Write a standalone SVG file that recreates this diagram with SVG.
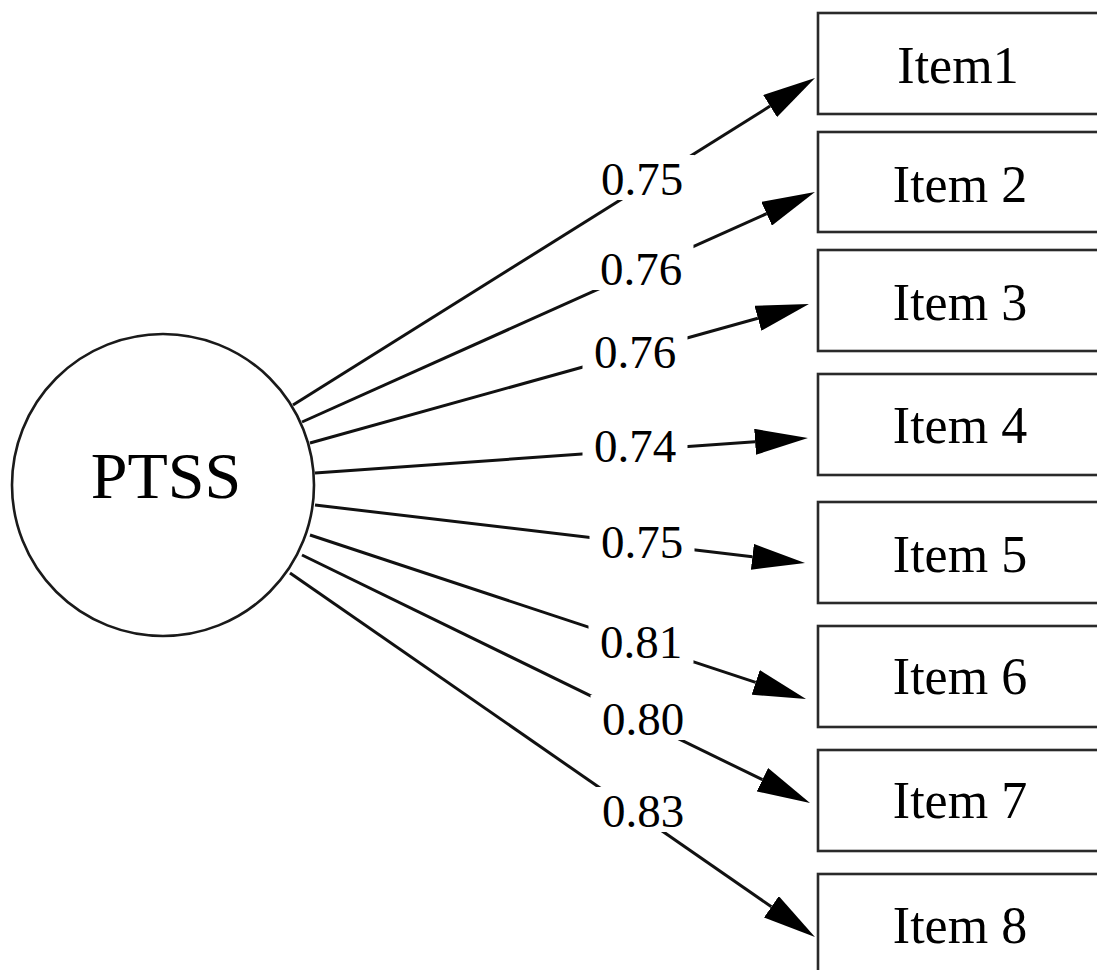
<svg xmlns="http://www.w3.org/2000/svg" width="1097" height="970" viewBox="0 0 1097 970">
<style>
  .edge { stroke: #111; stroke-width: 3; fill: none; }
  .box { fill: #fff; stroke: #2a2a2a; stroke-width: 2.6; }
  .node-text { font-family: "Liberation Serif", "Times New Roman", serif; font-size: 52px; fill: #000; text-anchor: middle; }
  .lbl { font-family: "Liberation Serif", "Times New Roman", serif; font-size: 47px; fill: #000; text-anchor: middle; }
  .lblbg { fill: #fff; stroke: none; }
</style>
<defs>
  <marker id="arrow" markerUnits="userSpaceOnUse" viewBox="0 0 53 26" markerWidth="53" markerHeight="26" refX="0" refY="13" orient="auto">
    <path d="M0,0 L53,13 L0,26 Z" fill="#000"/>
  </marker>
</defs>
<rect width="1097" height="970" fill="#fff"/>

<g id="connectors">
  <line class="edge" x1="293" y1="405" x2="770.1" y2="106.1" marker-end="url(#arrow)"/>
  <line class="edge" x1="302" y1="422" x2="766.6" y2="213.7" marker-end="url(#arrow)"/>
  <line class="edge" x1="310" y1="443" x2="757.9" y2="318.2" marker-end="url(#arrow)"/>
  <line class="edge" x1="315" y1="473" x2="755.1" y2="441.8" marker-end="url(#arrow)"/>
  <line class="edge" x1="315" y1="505" x2="752.4" y2="556.8" marker-end="url(#arrow)"/>
  <line class="edge" x1="310" y1="535" x2="755.7" y2="682.4" marker-end="url(#arrow)"/>
  <line class="edge" x1="302" y1="555" x2="762.4" y2="779.7" marker-end="url(#arrow)"/>
  <line class="edge" x1="290" y1="573" x2="771.4" y2="906.8" marker-end="url(#arrow)"/>
  <g id="edge-labels">
    <rect class="lblbg" x="589.5" y="155" width="105" height="45"/>
    <text class="lbl" x="642" y="195">0.75</text>
    <rect class="lblbg" x="588.5" y="245" width="105" height="45"/>
    <text class="lbl" x="641" y="285">0.76</text>
    <rect class="lblbg" x="582.5" y="328" width="105" height="45"/>
    <text class="lbl" x="635" y="368">0.76</text>
    <rect class="lblbg" x="582.5" y="422" width="105" height="45"/>
    <text class="lbl" x="635" y="462">0.74</text>
    <rect class="lblbg" x="589.5" y="518" width="105" height="45"/>
    <text class="lbl" x="642" y="558">0.75</text>
    <rect class="lblbg" x="588.5" y="618" width="105" height="45"/>
    <text class="lbl" x="641" y="658">0.81</text>
    <rect class="lblbg" x="590.5" y="695" width="105" height="45"/>
    <text class="lbl" x="643" y="735">0.80</text>
    <rect class="lblbg" x="590.5" y="787" width="105" height="45"/>
    <text class="lbl" x="643" y="827">0.83</text>
  </g>
</g>

<g id="PTSS">
  <circle cx="163" cy="485" r="151" fill="#fff" stroke="#1a1a1a" stroke-width="2.6"/>
  <text x="166" y="498" font-family="'Liberation Serif', 'Times New Roman', serif" font-size="66" text-anchor="middle" fill="#000">PTSS</text>
</g>
<g id="item1">
  <rect class="box" x="818" y="13" width="300" height="101"/>
  <text class="node-text" x="958" y="83">Item1</text>
</g>
<g id="item2">
  <rect class="box" x="818" y="132" width="300" height="100"/>
  <text class="node-text" x="960" y="202">Item 2</text>
</g>
<g id="item3">
  <rect class="box" x="818" y="250" width="300" height="101"/>
  <text class="node-text" x="960" y="320">Item 3</text>
</g>
<g id="item4">
  <rect class="box" x="818" y="374" width="300" height="101"/>
  <text class="node-text" x="960" y="443">Item 4</text>
</g>
<g id="item5">
  <rect class="box" x="818" y="502" width="300" height="101"/>
  <text class="node-text" x="960" y="572">Item 5</text>
</g>
<g id="item6">
  <rect class="box" x="818" y="626" width="300" height="101"/>
  <text class="node-text" x="960" y="694">Item 6</text>
</g>
<g id="item7">
  <rect class="box" x="818" y="750" width="300" height="101"/>
  <text class="node-text" x="960" y="818">Item 7</text>
</g>
<g id="item8">
  <rect class="box" x="818" y="874" width="300" height="101"/>
  <text class="node-text" x="960" y="943">Item 8</text>
</g>
</svg>
